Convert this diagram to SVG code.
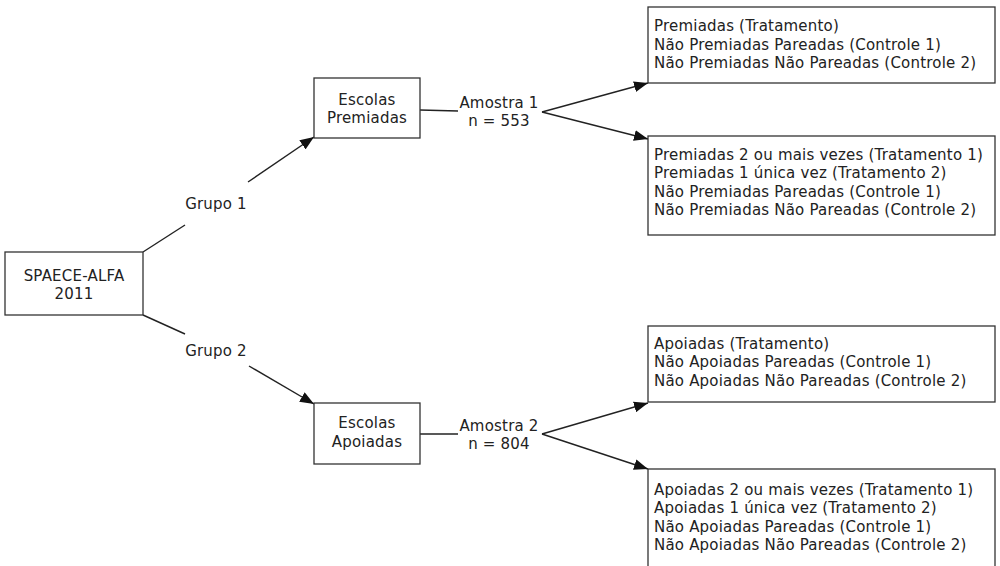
<svg xmlns="http://www.w3.org/2000/svg" width="1000" height="566" viewBox="0 0 1000 566">
<style>
.box{fill:#fff;stroke:#333;stroke-width:1.3}
.t{font-family:"DejaVu Sans",Verdana,sans-serif;font-size:15px;letter-spacing:0.2px;fill:#222}
.c{text-anchor:middle}
.ln{stroke:#222;stroke-width:1.4;fill:none}
</style>
<defs>
<marker id="ah" viewBox="0 0 14 11" refX="14" refY="5.5" markerWidth="14" markerHeight="11" markerUnits="userSpaceOnUse" orient="auto">
<path d="M0,0 L14,5.5 L0,11 Z" fill="#111"/>
</marker>
</defs>
<rect width="1000" height="566" fill="#fff"/>
<g id="connectors">
<line class="ln" x1="143" y1="252" x2="185" y2="225"/>
<line class="ln" x1="248" y1="182" x2="314" y2="137" marker-end="url(#ah)"/>
<line class="ln" x1="143" y1="315" x2="185" y2="334"/>
<line class="ln" x1="249" y1="366" x2="314" y2="404" marker-end="url(#ah)"/>
<line class="ln" x1="420" y1="110" x2="458" y2="111"/>
<line class="ln" x1="542" y1="112" x2="648" y2="83" marker-end="url(#ah)"/>
<line class="ln" x1="542" y1="112" x2="648" y2="139" marker-end="url(#ah)"/>
<line class="ln" x1="420" y1="434" x2="458" y2="434"/>
<line class="ln" x1="542" y1="434" x2="648" y2="403" marker-end="url(#ah)"/>
<line class="ln" x1="542" y1="434" x2="648" y2="469" marker-end="url(#ah)"/>
</g>
<g id="spaece">
<rect class="box" x="5" y="252" width="138" height="63"/>
<text class="t c" x="74" y="281">SPAECE-ALFA</text>
<text class="t c" x="74" y="299">2011</text>
</g>
<g id="grupo1"><text class="t c" x="216" y="209">Grupo 1</text></g>
<g id="grupo2"><text class="t c" x="216" y="356">Grupo 2</text></g>
<g id="premiadas">
<rect class="box" x="314" y="78" width="106" height="60"/>
<text class="t c" x="367" y="105">Escolas</text>
<text class="t c" x="367" y="123">Premiadas</text>
</g>
<g id="amostra1">
<text class="t c" x="499" y="108">Amostra 1</text>
<text class="t c" x="499" y="126">n = 553</text>
</g>
<g id="premiadas-a">
<rect class="box" x="648" y="7" width="347" height="76"/>
<text class="t" x="654" y="31">Premiadas (Tratamento)</text>
<text class="t" x="654" y="50">Não Premiadas Pareadas (Controle 1)</text>
<text class="t" x="654" y="68">Não Premiadas Não Pareadas (Controle 2)</text>
</g>
<g id="premiadas-b">
<rect class="box" x="648" y="136" width="347" height="99"/>
<text class="t" x="654" y="160">Premiadas 2 ou mais vezes (Tratamento 1)</text>
<text class="t" x="654" y="178">Premiadas 1 única vez (Tratamento 2)</text>
<text class="t" x="654" y="197">Não Premiadas Pareadas (Controle 1)</text>
<text class="t" x="654" y="215">Não Premiadas Não Pareadas (Controle 2)</text>
</g>
<g id="apoiadas">
<rect class="box" x="314" y="403" width="106" height="61"/>
<text class="t c" x="367" y="428">Escolas</text>
<text class="t c" x="367" y="447">Apoiadas</text>
</g>
<g id="amostra2">
<text class="t c" x="499" y="431">Amostra 2</text>
<text class="t c" x="499" y="449">n = 804</text>
</g>
<g id="apoiadas-a">
<rect class="box" x="648" y="326" width="347" height="76"/>
<text class="t" x="654" y="349">Apoiadas (Tratamento)</text>
<text class="t" x="654" y="367">Não Apoiadas Pareadas (Controle 1)</text>
<text class="t" x="654" y="386">Não Apoiadas Não Pareadas (Controle 2)</text>
</g>
<g id="apoiadas-b">
<rect class="box" x="648" y="469" width="347" height="110"/>
<text class="t" x="654" y="495">Apoiadas 2 ou mais vezes (Tratamento 1)</text>
<text class="t" x="654" y="513">Apoiadas 1 única vez (Tratamento 2)</text>
<text class="t" x="654" y="532">Não Apoiadas Pareadas (Controle 1)</text>
<text class="t" x="654" y="550">Não Apoiadas Não Pareadas (Controle 2)</text>
</g>
</svg>
